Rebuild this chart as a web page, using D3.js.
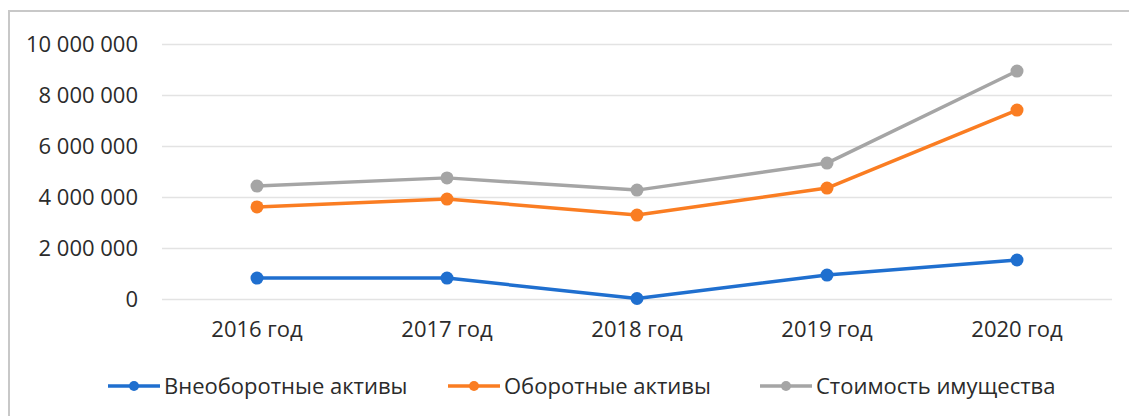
<!DOCTYPE html>
<html>
<head>
<meta charset="utf-8">
<script src="https://cdn.jsdelivr.net/npm/d3@7"></script>
<style>
  body { margin: 0; background: #fff; }
  text { font-family: "Open Sans", "Noto Sans", sans-serif; fill: #2b2b2b; }
</style>
</head>
<body>
<div id="chart"></div>
<script>
// Data
const years = ["2016 год", "2017 год", "2018 год", "2019 год", "2020 год"];
const nonCurrent = [820000, 820000, 20000, 940000, 1530000];
const current = [3610000, 3920000, 3290000, 4350000, 7410000];
const property = [4430000, 4750000, 4270000, 5330000, 8940000];
const yTicks = [0, 2000000, 4000000, 6000000, 8000000, 10000000];

const seriesNames = ["Внеоборотные активы", "Оборотные активы", "Стоимость имущества"];
const seriesColors = ["#1f6fcf", "#fa7d22", "#a5a5a5"];

const series = [nonCurrent, current, property].map((values, i) => ({
    name: seriesNames[i],
    colour: seriesColors[i],
    values: values
}));

// Chart dimensions
const width = 1129;
const height = 416;
const marginTop = 44;
const marginRight = 17;
const marginBottom = 117;
const marginLeft = 162;
const fontSize = 22;

const graph = d3.select("#chart").append("svg")
    .attr("width", width)
    .attr("height", height);

// frame (top and left edges visible)
graph.append("path")
    .attr("d", `M9,${height} V11 H${width}`)
    .attr("fill", "none")
    .attr("stroke", "#c8c8c8")
    .attr("stroke-width", 2);

const xscale = d3.scaleBand()
    .domain(years)
    .range([marginLeft, width - marginRight]);

const yscale = d3.scaleLinear()
    .domain([0, 10000000])
    .range([height - marginBottom, marginTop]);

// number format with spaces, e.g. 10 000 000
const fmt = d3.formatLocale({ decimal: ",", thousands: "\u00a0", grouping: [3], currency: ["", ""] }).format(",");

// gridlines + y labels
const yAxis = graph.append("g")
    .attr("transform", `translate(${marginLeft},0)`)
    .call(d3.axisLeft(yscale)
        .tickValues(yTicks)
        .tickFormat(fmt)
        .tickSize(-(width - marginRight - marginLeft))
        .tickPadding(24));
yAxis.select(".domain").remove();
yAxis.selectAll(".tick line").attr("stroke", "#e3e3e3").attr("stroke-width", 1.5);
yAxis.selectAll(".tick text")
    .attr("font-size", fontSize)
    .attr("font-family", null)
    .attr("fill", "#2b2b2b");

// x labels
const xAxis = graph.append("g")
    .attr("transform", `translate(0, ${height - marginBottom})`)
    .call(d3.axisBottom(xscale).tickSize(0).tickPadding(22));
xAxis.select(".domain").remove();
xAxis.selectAll(".tick text")
    .attr("font-size", fontSize)
    .attr("font-family", null)
    .attr("fill", "#2b2b2b");

// lines and points
const line = d3.line()
    .x((d, i) => xscale(years[i]) + xscale.bandwidth() / 2)
    .y(d => yscale(d));

for (const s of series) {
    graph.append("path")
        .attr("fill", "none")
        .attr("stroke", s.colour)
        .attr("stroke-width", 3.5)
        .attr("stroke-linejoin", "round")
        .attr("d", line(s.values));
    graph.append("g").selectAll("circle")
        .data(s.values)
        .join("circle")
        .attr("cx", (d, i) => xscale(years[i]) + xscale.bandwidth() / 2)
        .attr("cy", d => yscale(d))
        .attr("r", 6.5)
        .attr("fill", s.colour);
}

// legend
const legendX = [108, 448, 760];
const legendY = 386;
const legend = graph.append("g");
series.forEach((s, i) => {
    const g = legend.append("g").attr("transform", `translate(${legendX[i]},${legendY})`);
    g.append("line")
        .attr("x1", 0).attr("x2", 52)
        .attr("stroke", s.colour)
        .attr("stroke-width", 3.5);
    g.append("circle")
        .attr("cx", 26)
        .attr("r", 5)
        .attr("fill", s.colour);
    g.append("text")
        .attr("x", 56)
        .attr("dy", "0.35em")
        .attr("font-size", fontSize)
        .attr("fill", "#2b2b2b")
        .text(s.name);
});
</script>
</body>
</html>
